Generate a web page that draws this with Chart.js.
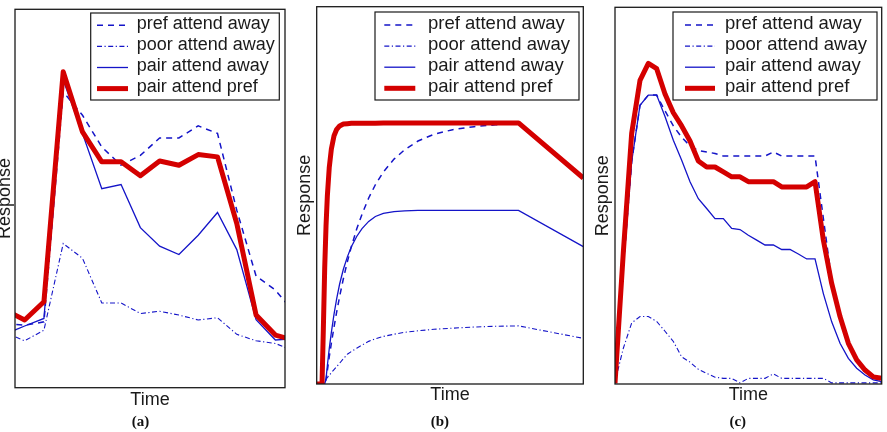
<!DOCTYPE html>
<html>
<head>
<meta charset="utf-8">
<script src="https://cdn.jsdelivr.net/npm/chart.js@4"></script>
<style>
  html, body { margin: 0; padding: 0; background: #fff; }
  body { width: 887px; height: 432px; position: relative; overflow: hidden; }
  canvas { position: absolute; top: 0; }
</style>
</head>
<body>
<canvas id="panel-a" width="297" height="432" style="left:-4px"></canvas>
<canvas id="panel-b" width="295" height="432" style="left:295px"></canvas>
<canvas id="panel-c" width="297" height="432" style="left:590px"></canvas>
<script>
// series names, same for all three panels
const seriesLabels = ['pref attend away', 'poor attend away', 'pair attend away', 'pair attend pref'];
const captions = ['(a)', '(b)', '(c)'];
const xTitle = 'Time';
const yTitle = 'Response';

// (a) measured responses
const timeA = [0, 1, 2, 3, 4, 5, 6, 7, 8, 9, 10, 11, 12, 13, 14, 15];
const prefAwayA = [17.0, 16.5, 17.4, 78.2, 72.0, 63.6, 58.8, 61.4, 66.0, 66.0, 69.2, 67.2, 46.9, 29.5, 25.8, 19.7];
const poorAwayA = [14.5, 12.4, 15.2, 38.1, 34.2, 22.4, 22.4, 19.6, 20.2, 19.2, 17.9, 18.5, 14.1, 12.4, 11.7, 9.6];
const pairAwayA = [14.2, 16.3, 18.3, 81.3, 67.2, 52.6, 53.7, 42.3, 37.4, 35.2, 40.3, 46.3, 36.5, 18.0, 12.6, 12.9];
const pairPrefA = [20.5, 17.9, 22.7, 83.5, 67.6, 59.7, 59.7, 56.0, 59.9, 58.8, 61.6, 61.0, 43.4, 19.2, 13.9, 12.5];

// (b) model responses
const timeB = [0, 2, 2.5, 3, 3.5, 4, 4.7, 5.5, 6.5, 7.5, 8.6, 10, 11.5, 13, 15, 17, 19.5, 22, 25, 29, 33, 38, 44, 51, 59, 67, 75.7, 100];
const prefAwayB = [0, 0, 0, 0, 1.1, 3.6, 7.1, 10.8, 15.1, 19.1, 23.2, 27.9, 32.4, 36.4, 41.1, 45.0, 49.3, 52.8, 56.2, 59.6, 62.1, 64.4, 66.2, 67.4, 68.2, 68.7, 69.2, 54.6];
const poorAwayB = [0, 0, 0, 1.0, 1.3, 1.7, 2.3, 3.0, 3.8, 4.6, 5.5, 6.7, 7.9, 8.6, 9.5, 10.3, 11.3, 12.0, 12.6, 13.2, 13.7, 14.1, 14.5, 14.8, 15.1, 15.3, 15.4, 12.1];
const pairAwayB = [0, 0, 0, 0, 1.4, 4.9, 9.3, 13.7, 18.5, 22.6, 26.5, 30.4, 33.7, 36.4, 39.1, 41.2, 43.1, 44.4, 45.2, 45.7, 45.9, 46.0, 46.0, 46.0, 46.0, 46.0, 46.0, 36.4];
const pairPrefB = [0, 0, 14.7, 30.7, 41.9, 49.9, 57.3, 62.3, 65.8, 67.5, 68.4, 68.9, 69.0, 69.1, 69.1, 69.1, 69.1, 69.1, 69.2, 69.2, 69.2, 69.2, 69.2, 69.2, 69.2, 69.2, 69.2, 54.6];

// (c) model responses
const timeC = [0, 1, 2, 3, 4, 5, 6, 7, 8, 9, 10, 11, 12, 13, 14, 15, 16, 17, 18, 19, 20, 21, 22, 23, 24, 25, 26, 27, 28, 29, 30, 31, 32];
const prefAwayC = [0.2, 31, 59, 74, 76.7, 76.7, 72.5, 68.5, 65.5, 63.2, 62.0, 61.6, 61.2, 60.5, 60.5, 60.5, 60.5, 60.5, 60.5, 61.6, 60.5, 60.5, 60.5, 60.5, 60.5, 44.0, 27.5, 17.5, 10.5, 6.0, 3.3, 1.5, 1.0];
const poorAwayC = [0.6, 9.5, 16.2, 17.9, 17.9, 16.6, 14.0, 11.3, 7.2, 5.8, 3.9, 2.8, 1.8, 1.5, 1.5, 0.3, 1.5, 1.5, 1.5, 2.7, 1.5, 1.5, 1.5, 1.5, 1.5, 1.5, 0.3, 0.3, 0.3, 0.3, 0.3, 0.3, 0.3];
const pairAwayC = [0.2, 31, 59, 74, 76.7, 76.7, 71.0, 64.7, 59.4, 53.7, 49.2, 46.6, 43.9, 43.9, 41.3, 41.0, 39.5, 38.2, 36.9, 36.9, 35.7, 35.7, 34.5, 33.2, 33.2, 24.0, 16.5, 10.8, 6.8, 4.2, 2.4, 1.1, 0.6];
const pairPrefC = [0.2, 35, 66.5, 80.6, 85.1, 83.7, 77.0, 72.0, 68.5, 64.5, 59.2, 57.6, 57.6, 56.3, 55.0, 55.0, 53.7, 53.7, 53.7, 53.7, 52.3, 52.3, 52.3, 52.3, 53.7, 38.2, 26.7, 17.9, 10.8, 6.4, 3.7, 1.9, 1.5];

const BLUE = '#1414c8';
const RED = '#d40000';
const INK = '#1a1a1a';
const SANS = '"Liberation Sans", Arial, sans-serif';

const lineStyles = [
    { borderColor: BLUE, borderWidth: 1.5, borderDash: [6, 5], order: 4 },
    { borderColor: BLUE, borderWidth: 1.1, borderDash: [5, 2.5, 1.2, 2.5], order: 3 },
    { borderColor: BLUE, borderWidth: 1.3, borderDash: [], order: 2 },
    { borderColor: RED, borderWidth: 5, borderDash: [], order: 1, borderJoinStyle: 'round' }
];

// black box round the plot area
const framePlugin = {
    id: 'frame',
    afterDatasetsDraw(chart) {
        const { ctx, chartArea: a } = chart;
        ctx.save();
        ctx.strokeStyle = INK;
        ctx.lineWidth = 1.3;
        ctx.strokeRect(a.left, a.top, a.right - a.left, a.bottom - a.top);
        ctx.restore();
    }
};

// legend drawn inside the plot, top right, with a border
const boxLegend = {
    id: 'boxLegend',
    afterDraw(chart, args, o) {
        const { ctx, chartArea: a } = chart;
        const x = a.right - o.right - o.width;
        const y = a.top + o.top;
        ctx.save();
        ctx.fillStyle = '#fff';
        ctx.fillRect(x, y, o.width, o.height);
        ctx.strokeStyle = INK;
        ctx.lineWidth = 1.2;
        ctx.strokeRect(x, y, o.width, o.height);
        ctx.font = `${o.fontSize}px ${SANS}`;
        ctx.textBaseline = 'middle';
        chart.data.datasets.forEach((d, i) => {
            const cy = y + o.firstRow + i * o.rowGap;
            ctx.beginPath();
            ctx.setLineDash(d.borderDash || []);
            ctx.lineWidth = d.borderWidth;
            ctx.strokeStyle = d.borderColor;
            ctx.lineCap = 'butt';
            ctx.moveTo(x + o.padLeft, cy);
            ctx.lineTo(x + o.padLeft + o.sampleLen, cy);
            ctx.stroke();
            ctx.setLineDash([]);
            ctx.fillStyle = INK;
            ctx.fillText(d.label, x + o.padLeft + o.sampleLen + o.gap, cy - 1.5);
        });
        ctx.restore();
    }
};

const panels = [
    {
        id: 'panel-a', caption: captions[0], time: timeA,
        series: [prefAwayA, poorAwayA, pairAwayA, pairPrefA],
        xMin: 0.5, xMax: 14.5,
        padding: { left: 0, right: 8, top: 9.3, bottom: 0 },
        yTitlePad: 1, xTitlePad: 3, capPad: { top: 5.8, bottom: 2.5 },
        legend: { right: 5.7, top: 3.7, width: 188.6, height: 87, padLeft: 6.3, sampleLen: 31, gap: 8.7, fontSize: 18, firstRow: 12.3, rowGap: 21.1 }
    },
    {
        id: 'panel-b', caption: captions[1], time: timeB,
        series: [prefAwayB, poorAwayB, pairAwayB, pairPrefB],
        xMin: 0, xMax: 100,
        padding: { left: 1.5, right: 6.7, top: 6.7, bottom: 0 },
        yTitlePad: 2.2, xTitlePad: 2.5, capPad: { top: 10, bottom: 2.5 },
        legend: { right: 4.3, top: 5.3, width: 204, height: 88, padLeft: 9.3, sampleLen: 31, gap: 12.7, fontSize: 18.5, firstRow: 13, rowGap: 21.1 }
    },
    {
        id: 'panel-c', caption: captions[2], time: timeC,
        series: [prefAwayC, poorAwayC, pairAwayC, pairPrefC],
        xMin: 0, xMax: 32,
        padding: { left: 3.8, right: 5.3, top: 7.3, bottom: 0 },
        yTitlePad: 3.2, xTitlePad: 2.5, capPad: { top: 10, bottom: 2.5 },
        legend: { right: 4.7, top: 4.7, width: 204, height: 88, padLeft: 12, sampleLen: 30, gap: 10, fontSize: 18.5, firstRow: 13, rowGap: 21.1 }
    }
];

function buildChart(p) {
    const datasets = p.series.map((values, k) => ({
        label: seriesLabels[k],
        data: p.time.map((t, i) => ({ x: t, y: values[i] })),
        fill: false,
        tension: 0,
        pointRadius: 0,
        clip: 0,
        ...lineStyles[k]
    }));

    return new Chart(document.getElementById(p.id), {
        type: 'line',
        data: { datasets },
        plugins: [framePlugin, boxLegend],
        options: {
            responsive: false,
            animation: false,
            devicePixelRatio: 1,
            layout: { padding: p.padding },
            scales: {
                x: {
                    type: 'linear', min: p.xMin, max: p.xMax,
                    ticks: { display: false },
                    grid: { display: false, drawTicks: false },
                    border: { display: false },
                    title: {
                        display: true, text: xTitle, color: INK,
                        font: { family: SANS, size: 18, lineHeight: 1 },
                        padding: { top: p.xTitlePad, bottom: 0 }
                    }
                },
                y: {
                    min: 0, max: 100,
                    ticks: { display: false },
                    grid: { display: false, drawTicks: false },
                    border: { display: false },
                    title: {
                        display: true, text: yTitle, color: INK,
                        font: { family: SANS, size: 18, lineHeight: 1 },
                        padding: { top: 0, bottom: p.yTitlePad }
                    }
                }
            },
            plugins: {
                legend: { display: false },
                tooltip: { enabled: false },
                title: {
                    display: true, text: p.caption, position: 'bottom', color: '#111',
                    font: { family: '"Liberation Serif", "Times New Roman", serif', size: 15, weight: 'bold', lineHeight: 1 },
                    padding: p.capPad
                },
                boxLegend: p.legend
            }
        }
    });
}

panels.forEach(buildChart);
</script>
</body>
</html>
